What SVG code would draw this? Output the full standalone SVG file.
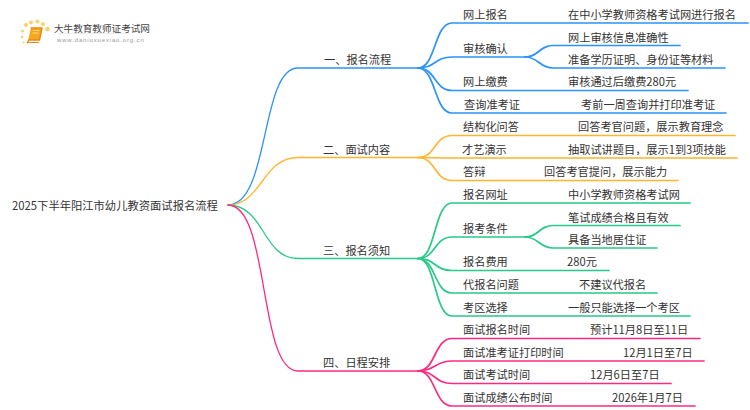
<svg xmlns="http://www.w3.org/2000/svg" width="750" height="410" viewBox="0 0 750 410">
<style>
text{font-family:"Noto Sans CJK SC","Noto Sans",sans-serif;font-size:11.2px;fill:#333}
path{fill:none;stroke-linecap:round}
.b{stroke:#2b93fb}.o{stroke:#ffb52e}.g{stroke:#27c986}.p{stroke:#ff2a80}
.m{stroke-width:1.3}.l{stroke-width:1.7}
.d{fill:#fbd266}
</style>
<rect width="750" height="410" fill="#fff"/>
<g id="logo">
<circle class="d" cx="26" cy="25" r="2"/><circle class="d" cx="31" cy="22.500" r="2"/><circle class="d" cx="37.500" cy="21.500" r="2"/><circle class="d" cx="43" cy="24" r="2"/><circle class="d" cx="47.500" cy="29" r="2.300"/><circle class="d" cx="22.500" cy="31" r="1.500"/><circle class="d" cx="22" cy="37" r="1.300"/><circle class="d" cx="23.500" cy="42.500" r="1"/>
<path d="M31 28H42L39.500 40H29L27.500 42.500" style="fill:#f8a81c;stroke:#ee8510;stroke-width:1.400;stroke-linejoin:round"/>
<path d="M28 42.500H38.500" style="stroke:#ee8510;stroke-width:1.200"/>
<path d="M33.500 30.500H39M33 33H38" style="stroke:#ffe3a8;stroke-width:.8"/>
<text x="54" y="31.500" style="font-size:9.600px;fill:#444">大牛教育教师证考试网</text>
<path d="M58 33.500H130" style="stroke:#e8e8e8;stroke-width:.8"/>
<text x="57" y="41.500" style="font-size:6px;fill:#999;letter-spacing:.85px;font-family:'Liberation Sans',sans-serif">www.daniuxuexiao.org.cn</text>
</g>
<g id="connectors">
<path class="b m" d="M228 205C270 205 260 68 298 68H418"/>
<path class="o m" d="M228 205C262 205 262 157.500 298 157.500H418"/>
<path class="g m" d="M228 205C265 205 262 258.500 298 258.500H418"/>
<path class="p m" d="M228 205C270 205 258 371 298 371H418"/>
<path class="b l" d="M418 68C436 68 434 23 452 23H748"/>
<path class="b l" d="M418 68C436 68 434 57 452 57H525"/>
<path class="b l" d="M418 68C436 68 434 90.500 452 90.500H688"/>
<path class="b l" d="M418 68C436 68 434 113 452 113H726"/>
<path class="b l" d="M525 57C539 57 539 45.500 553 45.500H680"/>
<path class="b l" d="M525 57C539 57 539 68 553 68H725"/>
<path class="o l" d="M418 157.500C436 157.500 434 135.500 452 135.500H735"/>
<path class="o l" d="M418 157.500C436 157.500 434 158 452 158H737"/>
<path class="o l" d="M418 157.500C436 157.500 434 180.500 452 180.500H678"/>
<path class="g l" d="M418 258.500C436 258.500 434 203 452 203H690"/>
<path class="g l" d="M418 258.500C436 258.500 434 237 452 237H525"/>
<path class="g l" d="M418 258.500C436 258.500 434 270.500 452 270.500H609"/>
<path class="g l" d="M418 258.500C436 258.500 434 293 452 293H657"/>
<path class="g l" d="M418 258.500C436 258.500 434 316 452 316H690"/>
<path class="g l" d="M525 237C539 237 539 225.500 553 225.500H680"/>
<path class="g l" d="M525 237C539 237 539 248 553 248H657"/>
<path class="p l" d="M418 371C436 371 434 338.500 452 338.500H700"/>
<path class="p l" d="M418 371C436 371 434 361 452 361H704"/>
<path class="p l" d="M418 371C436 371 434 383.500 452 383.500H671"/>
<path class="p l" d="M418 371C436 371 434 406 452 406H695"/>
</g>
<g id="root"><text x="12" y="210" style="font-size:11.300px">2025下半年阳江市幼儿教资面试报名流程</text></g>
<g id="n1"><text x="324" y="64">一、报名流程</text></g>
<g id="n2"><text x="323" y="154">二、面试内容</text></g>
<g id="n3"><text x="323" y="255">三、报名须知</text></g>
<g id="n4"><text x="323" y="367">四、日程安排</text></g>
<g id="n1-1"><text x="463" y="19">网上报名</text><text x="568" y="19">在中小学教师资格考试网进行报名</text></g>
<g id="n1-2"><text x="463" y="53">审核确认</text><text x="568" y="41.500">网上审核信息准确性</text><text x="568" y="64">准备学历证明、身份证等材料</text></g>
<g id="n1-3"><text x="463" y="86">网上缴费</text><text x="568" y="86">审核通过后缴费280元</text></g>
<g id="n1-4"><text x="464" y="109">查询准考证</text><text x="581" y="109">考前一周查询并打印准考证</text></g>
<g id="n2-1"><text x="463" y="131">结构化问答</text><text x="578" y="131">回答考官问题，展示教育理念</text></g>
<g id="n2-2"><text x="462" y="154">才艺演示</text><text x="568" y="154">抽取试讲题目，展示1到3项技能</text></g>
<g id="n2-3"><text x="463" y="176">答辩</text><text x="544" y="176">回答考官提问，展示能力</text></g>
<g id="n3-1"><text x="463" y="199">报名网址</text><text x="568" y="199">中小学教师资格考试网</text></g>
<g id="n3-2"><text x="463" y="233">报考条件</text><text x="568" y="221.500">笔试成绩合格且有效</text><text x="568" y="244">具备当地居住证</text></g>
<g id="n3-3"><text x="463" y="266">报名费用</text><text x="567" y="266">280元</text></g>
<g id="n3-4"><text x="463" y="289">代报名问题</text><text x="579" y="289">不建议代报名</text></g>
<g id="n3-5"><text x="463" y="312">考区选择</text><text x="568" y="312">一般只能选择一个考区</text></g>
<g id="n4-1"><text x="463" y="334">面试报名时间</text><text x="590" y="334">预计11月8日至11日</text></g>
<g id="n4-2"><text x="463" y="357">面试准考证打印时间</text><text x="623" y="357">12月1日至7日</text></g>
<g id="n4-3"><text x="463" y="379">面试考试时间</text><text x="590" y="379">12月6日至7日</text></g>
<g id="n4-4"><text x="463" y="402">面试成绩公布时间</text><text x="612" y="402">2026年1月7日</text></g>
</svg>
